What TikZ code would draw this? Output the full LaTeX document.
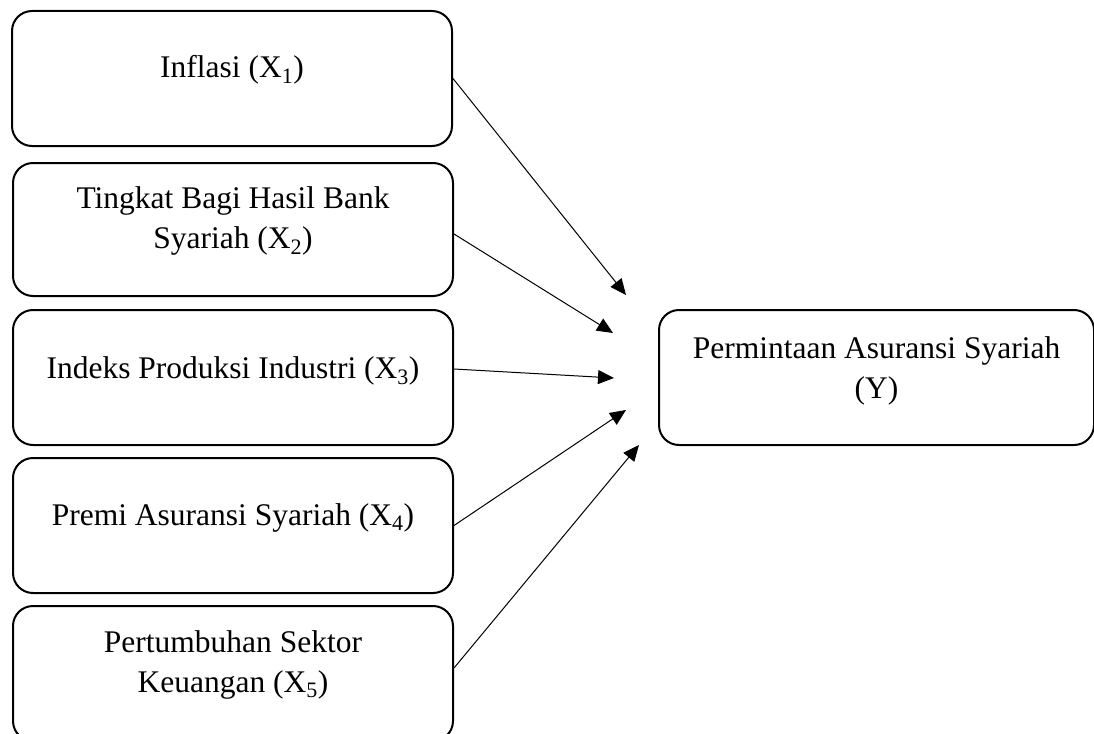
\documentclass[tikz,border=0pt]{standalone}
\usepackage{fontspec}
\setmainfont{Liberation Serif}
\usetikzlibrary{arrows.meta}
\begin{document}
\begin{tikzpicture}[x=1pt,y=-1pt,
  box/.style={draw=black, line width=2pt, rounded corners=20pt, inner sep=0pt, anchor=north west},
  txt/.style={font=\fontsize{31.5}{39.5}\selectfont, align=center, inner sep=0pt, anchor=base},
  conn/.style={line width=1pt, -{Triangle[length=16pt,width=14pt]}}]
\useasboundingbox (0,0) rectangle (1094,733);
\clip (0,0) rectangle (1094,733);
\node[box, minimum width=440pt, minimum height=135pt] (b1) at (11,10) {};
\node[box, minimum width=440pt, minimum height=133pt] (b2) at (12,162) {};
\node[box, minimum width=440pt, minimum height=135pt] (b3) at (12,309) {};
\node[box, minimum width=440pt, minimum height=135pt] (b4) at (12,457) {};
\node[box, minimum width=440pt, minimum height=135pt] (b5) at (12,605) {};
\node[box, minimum width=435pt, minimum height=135pt] (y) at (658,309) {};
\node[txt] (t1) at ([yshift=-68pt]b1.north) {Inflasi (X\textsubscript{1})};
\node[txt] (t2) at ([yshift=-86pt]b2.north) {Tingkat Bagi Hasil Bank\\Syariah (X\textsubscript{2})};
\node[txt] (t3) at ([yshift=-69pt]b3.north) {Indeks Produksi Industri (X\textsubscript{3})};
\node[txt] (t4) at ([yshift=-68pt]b4.north) {Premi Asuransi Syariah (X\textsubscript{4})};
\node[txt] (t5) at ([yshift=-87pt]b5.north) {Pertumbuhan Sektor\\Keuangan (X\textsubscript{5})};
\node[txt] (ty) at ([yshift=-89pt]y.north) {Permintaan Asuransi Syariah\\(Y)};
\coordinate (p1) at (626,295);
\coordinate (p2) at (613,333);
\coordinate (p3) at (614,378);
\coordinate (p4) at (626,410);
\coordinate (p5) at (639,445);
\draw[conn] (b1.east) -- (p1);
\draw[conn] ([yshift=-4.5pt]b2.east) -- (p2);
\draw[conn] ([yshift=8.5pt]b3.east) -- (p3);
\draw[conn] (b4.east) -- (p4);
\draw[conn] ([yshift=5.5pt]b5.east) -- (p5);
\end{tikzpicture}
\end{document}
